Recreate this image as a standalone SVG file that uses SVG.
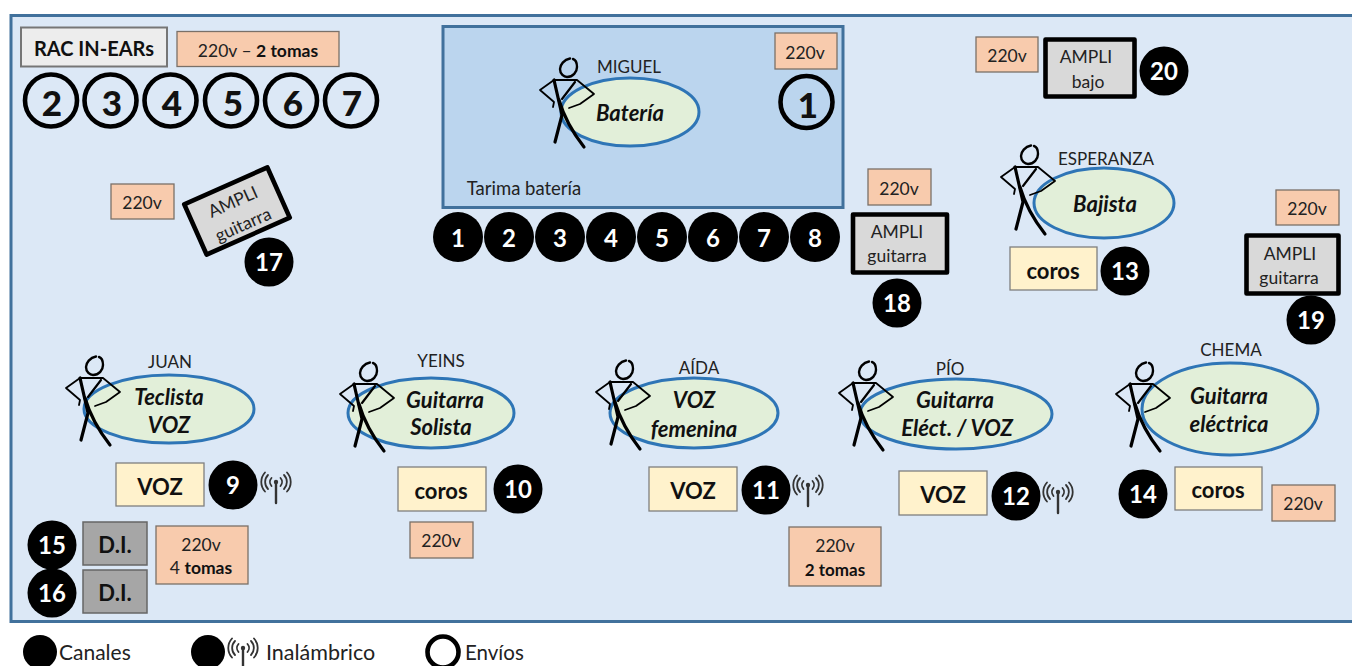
<svg xmlns="http://www.w3.org/2000/svg" width="1352" height="666" viewBox="0 0 1352 666">
<style>
text{font-family:Lato,"Open Sans","Liberation Sans",sans-serif;fill:#111;text-anchor:middle}
.stage{fill:#dce8f6;stroke:#41719c;stroke-width:3}
.riser{fill:#bbd5ee;stroke:#41719c;stroke-width:3}
.pw{fill:#f8cbad;stroke:#7a7068;stroke-width:1.3}
.gr{fill:#ededed;stroke:#767676;stroke-width:2}
.amp{fill:#d9d9d9;stroke:#000;stroke-width:4.600;stroke-linejoin:round}
.mic{fill:#fff2cc;stroke:#7f7f7f;stroke-width:1.3}
.di{fill:#a6a6a6;stroke:#666;stroke-width:1.500}
.el{fill:#e2efd9;stroke:#2e75b6;stroke-width:3}
.ch{fill:#000}
.cht{fill:#fff;font-size:24px;font-weight:700}
.env{fill:none;stroke:#000;stroke-width:4.600}
.ent{font-size:35px;font-weight:900}
.role{font-size:22px;font-weight:700;font-style:italic}
.nm{font-size:17px;fill:#222}
.v{font-size:17.500px;fill:#222}
.b{font-weight:700;fill:#111}
.mt{font-size:22px;font-weight:700}
.lg{font-size:20.500px;text-anchor:start;fill:#222}
.fig{fill:none;stroke:#000;stroke-linejoin:round;stroke-linecap:round}
.ant{fill:none;stroke:#333;stroke-linecap:round}
</style>
<defs>
<g id="figure" class="fig">
<path d="M2 -9.500C-4 -8.500 -8 -3 -8 1C-8 6 -4 9 -1 9C5 9 9 4 9 -1C9 -5 8 -8 5 -9" stroke-width="2.400"/>
<path d="M-14 12H9M-14 12L-28 22L-14 34L-15 39M9 12L26 26L12 36L1 40" stroke-width="1.800"/>
<path d="M-14 12L-6 47L-13 74" stroke-width="3.200"/>
<path d="M7 14L-6 31" stroke-width="2.200"/>
<path d="M-9 32Q-2 56 16 79" stroke-width="3.200"/>
</g>
<g id="antenna" class="ant">
<path d="M0 -5V15" stroke-width="2.400"/>
<circle cx="0" cy="-6" r="2.200" fill="#333" stroke="none"/>
<path d="M-4.500 -10A6 6 0 0 0 -4.500 -2M4.500 -10A6 6 0 0 1 4.500 -2M-8 -13A10 10 0 0 0 -8 1M8 -13A10 10 0 0 1 8 1M-11 -15.500A14 14 0 0 0 -11 3.500M11 -15.500A14 14 0 0 1 11 3.500" stroke-width="1.800"/>
</g>
</defs>

<rect id="stage" class="stage" x="11" y="15.500" width="1345" height="606"/>

<g id="rack">
<rect class="gr" x="21" y="27.500" width="146" height="39"/>
<text x="94" y="56" style="font-size:20px;font-weight:700">RAC IN-EARs</text>
</g>
<g id="rack-power">
<rect class="pw" x="177" y="31.500" width="162" height="35"/>
<text x="258" y="57" class="v">220v – <tspan class="b">2 tomas</tspan></text>
</g>
<g id="envio-2"><circle class="env" cx="51" cy="100.500" r="26"/><text class="ent" x="52" y="116">2</text></g>
<g id="envio-3"><circle class="env" cx="110.500" cy="100.500" r="26"/><text class="ent" x="112" y="116">3</text></g>
<g id="envio-4"><circle class="env" cx="170.500" cy="100.500" r="26"/><text class="ent" x="172" y="116">4</text></g>
<g id="envio-5"><circle class="env" cx="231" cy="100.500" r="26"/><text class="ent" x="233" y="116">5</text></g>
<g id="envio-6"><circle class="env" cx="291" cy="100.500" r="26"/><text class="ent" x="293" y="116">6</text></g>
<g id="envio-7"><circle class="env" cx="351" cy="100.500" r="26"/><text class="ent" x="352" y="116">7</text></g>

<g id="power-17"><rect class="pw" x="111" y="184" width="63" height="35"/><text class="v" x="142" y="209">220v</text></g>
<g id="ampli-17" transform="translate(237 211) rotate(-24)">
<rect class="amp" x="-45.500" y="-27.500" width="91" height="55"/>
<text class="v" x="0" y="-4">AMPLI</text><text class="v" x="0" y="21">guitarra</text>
</g>
<g id="ch-17"><circle class="ch" cx="269" cy="262" r="24.500"/><text class="cht" x="269" y="271">17</text></g>

<g id="riser">
<rect class="riser" x="443" y="26.500" width="400" height="181"/>
<text x="524" y="195" class="nm" style="font-size:18.500px">Tarima batería</text>
</g>
<g id="power-1"><rect class="pw" x="775" y="33" width="62" height="36"/><text class="v" x="805" y="59">220v</text></g>
<g id="envio-1"><circle class="env" cx="806.500" cy="102" r="26"/><text class="ent" x="808" y="118">1</text></g>
<g id="miguel">
<ellipse class="el" cx="630" cy="112" rx="69" ry="34"/>
<use href="#figure" x="568" y="68"/>
<text class="nm" x="629" y="73">MIGUEL</text>
<text class="role" x="630" y="121">Batería</text>
</g>

<g id="ch-1"><circle class="ch" cx="458" cy="237" r="25"/><text class="cht" x="458" y="247">1</text></g>
<g id="ch-2"><circle class="ch" cx="509" cy="237" r="25"/><text class="cht" x="509" y="247">2</text></g>
<g id="ch-3"><circle class="ch" cx="560" cy="237" r="25"/><text class="cht" x="560" y="247">3</text></g>
<g id="ch-4"><circle class="ch" cx="611" cy="237" r="25"/><text class="cht" x="611" y="247">4</text></g>
<g id="ch-5"><circle class="ch" cx="662" cy="237" r="25"/><text class="cht" x="662" y="247">5</text></g>
<g id="ch-6"><circle class="ch" cx="713" cy="237" r="25"/><text class="cht" x="713" y="247">6</text></g>
<g id="ch-7"><circle class="ch" cx="764" cy="237" r="25"/><text class="cht" x="764" y="247">7</text></g>
<g id="ch-8"><circle class="ch" cx="815" cy="237" r="25"/><text class="cht" x="815" y="247">8</text></g>

<g id="power-18"><rect class="pw" x="868" y="169" width="63" height="36"/><text class="v" x="899" y="195">220v</text></g>
<g id="ampli-18">
<rect class="amp" x="853" y="214.500" width="94" height="58"/>
<text class="v" x="897" y="238">AMPLI</text><text class="v" x="897" y="262">guitarra</text>
</g>
<g id="ch-18"><circle class="ch" cx="897" cy="303" r="24.500"/><text class="cht" x="897" y="312">18</text></g>

<g id="power-20"><rect class="pw" x="976" y="37" width="62" height="35"/><text class="v" x="1007" y="62">220v</text></g>
<g id="ampli-20">
<rect class="amp" x="1045.500" y="39.500" width="89" height="57"/>
<text class="v" x="1086" y="63">AMPLI</text><text class="v" x="1088" y="88">bajo</text>
</g>
<g id="ch-20"><circle class="ch" cx="1164" cy="71" r="24.500"/><text class="cht" x="1164" y="80">20</text></g>

<g id="esperanza">
<ellipse class="el" cx="1104" cy="203" rx="70" ry="35"/>
<use href="#figure" x="1029" y="155"/>
<text class="nm" x="1106" y="165">ESPERANZA</text>
<text class="role" x="1105" y="212">Bajista</text>
</g>
<g id="coros-13"><rect class="mic" x="1010" y="247" width="87" height="43"/><text class="mt" x="1053" y="279">coros</text></g>
<g id="ch-13"><circle class="ch" cx="1125" cy="271" r="24.500"/><text class="cht" x="1125" y="280">13</text></g>

<g id="power-19"><rect class="pw" x="1276" y="190" width="63" height="35"/><text class="v" x="1307" y="215">220v</text></g>
<g id="ampli-19">
<rect class="amp" x="1246.500" y="235.500" width="92" height="58"/>
<text class="v" x="1290" y="260">AMPLI</text><text class="v" x="1289" y="284">guitarra</text>
</g>
<g id="ch-19"><circle class="ch" cx="1311" cy="320" r="24.500"/><text class="cht" x="1311" y="329">19</text></g>

<g id="juan">
<ellipse class="el" cx="169" cy="409" rx="85" ry="34"/>
<use href="#figure" x="94" y="366"/>
<text class="nm" x="170" y="368">JUAN</text>
<text class="role" x="169" y="405">Teclista</text>
<text class="role" x="169" y="433">VOZ</text>
</g>
<g id="voz-9"><rect class="mic" x="116" y="463" width="88" height="43"/><text class="mt" x="160" y="495">VOZ</text></g>
<g id="ch-9"><circle class="ch" cx="233" cy="485" r="24.500"/><text class="cht" x="233" y="494">9</text></g>
<use id="ant-9" href="#antenna" x="276" y="488"/>

<g id="yeins">
<ellipse class="el" cx="431" cy="413" rx="83" ry="35"/>
<use href="#figure" x="368" y="372"/>
<text class="nm" x="441" y="367">YEINS</text>
<text class="role" x="445" y="408">Guitarra</text>
<text class="role" x="441" y="435">Solista</text>
</g>
<g id="coros-10"><rect class="mic" x="398" y="467" width="88" height="44"/><text class="mt" x="441" y="499">coros</text></g>
<g id="ch-10"><circle class="ch" cx="518" cy="489" r="24.500"/><text class="cht" x="518" y="498">10</text></g>
<g id="power-10"><rect class="pw" x="410" y="522" width="63" height="36"/><text class="v" x="441" y="547">220v</text></g>

<g id="aida">
<ellipse class="el" cx="694" cy="413" rx="84" ry="35"/>
<use href="#figure" x="624" y="370"/>
<text class="nm" x="699" y="374">AÍDA</text>
<text class="role" x="694" y="408">VOZ</text>
<text class="role" x="694" y="437">femenina</text>
</g>
<g id="voz-11"><rect class="mic" x="649" y="467" width="88" height="44"/><text class="mt" x="693" y="499">VOZ</text></g>
<g id="ch-11"><circle class="ch" cx="766" cy="490" r="24.500"/><text class="cht" x="766" y="499">11</text></g>
<use id="ant-11" href="#antenna" x="808" y="491"/>
<g id="power-11">
<rect class="pw" x="789" y="527" width="92" height="59"/>
<text class="v" x="835" y="552">220v</text><text class="b" style="font-size:17px" x="835" y="576">2 tomas</text>
</g>

<g id="pio">
<ellipse class="el" cx="956" cy="414" rx="96" ry="35"/>
<use href="#figure" x="867" y="371"/>
<text class="nm" x="950" y="375">PÍO</text>
<text class="role" x="955" y="408">Guitarra</text>
<text class="role" x="957" y="436">Eléct. / VOZ</text>
</g>
<g id="voz-12"><rect class="mic" x="899" y="471" width="88" height="44"/><text class="mt" x="943" y="503">VOZ</text></g>
<g id="ch-12"><circle class="ch" cx="1016" cy="496" r="24.500"/><text class="cht" x="1016" y="505">12</text></g>
<use id="ant-12" href="#antenna" x="1058" y="498"/>

<g id="chema">
<ellipse class="el" cx="1230" cy="409" rx="88" ry="46"/>
<use href="#figure" x="1144" y="372"/>
<text class="nm" x="1231" y="356">CHEMA</text>
<text class="role" x="1229" y="404">Guitarra</text>
<text class="role" x="1229" y="432">eléctrica</text>
</g>
<g id="ch-14"><circle class="ch" cx="1143" cy="494" r="24.500"/><text class="cht" x="1143" y="503">14</text></g>
<g id="coros-14"><rect class="mic" x="1175" y="467" width="87" height="43"/><text class="mt" x="1218" y="498">coros</text></g>
<g id="power-14"><rect class="pw" x="1272" y="485" width="63" height="36"/><text class="v" x="1303" y="510">220v</text></g>

<g id="ch-15"><circle class="ch" cx="52" cy="545" r="24.500"/><text class="cht" x="52" y="554">15</text></g>
<g id="ch-16"><circle class="ch" cx="52" cy="593" r="24.500"/><text class="cht" x="52" y="602">16</text></g>
<g id="di-15"><rect class="di" x="83" y="522" width="64" height="43"/><text class="mt" x="115" y="553">D.I.</text></g>
<g id="di-16"><rect class="di" x="83" y="570" width="64" height="43"/><text class="mt" x="115" y="601">D.I.</text></g>
<g id="power-di">
<rect class="pw" x="156" y="526" width="92" height="58"/>
<text class="v" x="201" y="551">220v</text><text x="201" y="574" class="v">4 <tspan class="b">tomas</tspan></text>
</g>

<g id="legend-canales"><circle class="ch" cx="40" cy="652" r="17"/><text class="lg" style="font-size:21px" x="59" y="660">Canales</text></g>
<g id="legend-inalambrico"><circle class="ch" cx="208" cy="652" r="17"/><use href="#antenna" x="243" y="654"/><text class="lg" style="font-size:21.500px" x="266" y="660">Inalámbrico</text></g>
<g id="legend-envios"><circle class="env" cx="443" cy="652" r="15.500"/><text class="lg" x="465" y="660">Envíos</text></g>
<g id="connectors"/>
</svg>
